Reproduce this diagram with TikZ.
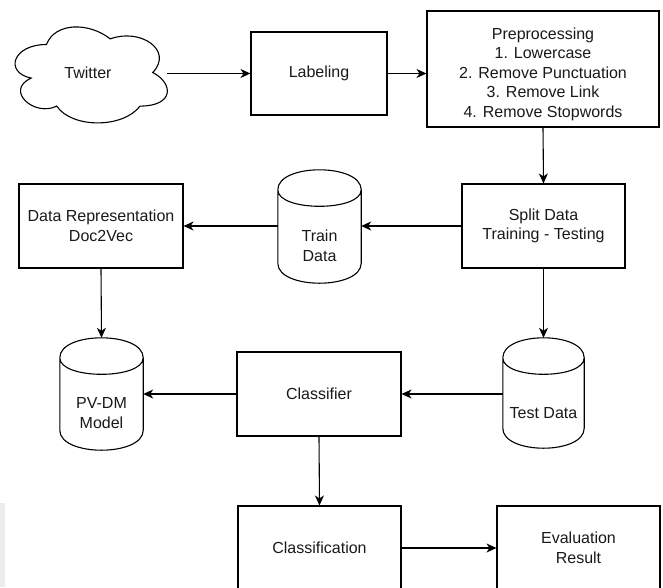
\documentclass[tikz,border=0pt]{standalone}
\usepackage{fontspec}
\setmainfont{Liberation Sans}
\usetikzlibrary{arrows.meta,calc}
\newcommand\drawcyl[1]{%
  \draw[shapeline] let \p1=(#1.north west), \p2=(#1.south east) in
    ({\x1},{\y1-20pt}) .. controls ({\x1},{\y1+6.67pt}) and ({\x2},{\y1+6.67pt}) .. ({\x2},{\y1-20pt})
    -- ({\x2},{\y2+20pt}) .. controls ({\x2},{\y2-6.67pt}) and ({\x1},{\y2-6.67pt}) .. ({\x1},{\y2+20pt}) -- cycle
    ({\x1},{\y1-20pt}) .. controls ({\x1},{\y1-42pt}) and ({\x2},{\y1-42pt}) .. ({\x2},{\y1-20pt});}
\begin{document}
\begin{tikzpicture}[x=1pt,y=-1pt,
  every node/.style={font=\fontsize{16}{19.5}\selectfont, align=center, inner sep=0pt, text=black!90},
  box/.style={draw, line width=1.1pt, rectangle},
  ghost/.style={rectangle},
  arr/.style={line width=1.1pt, -{Stealth[length=10pt,width=9pt,inset=3pt]}},
  shapeline/.style={line width=1.1pt}]
\useasboundingbox (0,0) rectangle (663,587);
\fill[gray!15] (0,503) rectangle (5,587);

% cloud
\draw[shapeline] (46.5,44.5)
  .. controls (12.5,44.5) and (4,72.5) .. (31.2,78.1)
  .. controls (4,90.4) and (34.6,117.3) .. (56.7,106.1)
  .. controls (72,128.5) and (123,128.5) .. (140,106.1)
  .. controls (174,106.1) and (174,83.7) .. (152.75,72.5)
  .. controls (174,50.1) and (140,27.7) .. (110.25,38.9)
  .. controls (89,22.1) and (55,22.1) .. (46.5,44.5) -- cycle;
\node[ghost, minimum width=152pt, minimum height=96pt] (twitter) at (91,73) {};
\node (twittertxt) at (88,73) {Twitter};

\node[box, minimum width=136pt, minimum height=83pt] (labeling) at (319,73.5) {Labeling};
\node[box, minimum width=232pt, minimum height=116pt] (preproc) at (543,69) {};
\node (preproctxt) at (543,74) {Preprocessing\\1. Lowercase\\2. Remove Punctuation\\3. Remove Link\\4. Remove Stopwords};

\node[box, minimum width=163pt, minimum height=84pt] (split) at (543.5,226) {Split Data\\Training - Testing};
\node[box, minimum width=164pt, minimum height=84pt] (datarep) at (101,226) {Data Representation\\Doc2Vec};

\node[ghost, minimum width=83pt, minimum height=113pt] (train) at (319.5,226.5) {};
\drawcyl{train}
\node (traintxt) at (319.5,246) {Train\\Data};

\node[ghost, minimum width=83pt, minimum height=112pt] (pvdm) at (101.5,394) {};
\drawcyl{pvdm}
\node (pvdmtxt) at (101.5,413) {PV-DM\\Model};

\node[box, minimum width=164pt, minimum height=84pt] (classifier) at (319,394) {Classifier};

\node[ghost, minimum width=81pt, minimum height=110pt] (test) at (543.5,393) {};
\drawcyl{test}
\node (testtxt) at (543.5,413) {Test Data};

\node[box, minimum width=163pt, minimum height=84pt] (classification) at (319.5,548) {Classification};
\node[box, minimum width=163pt, minimum height=84pt] (evaluation) at (578.5,548) {Evaluation\\Result};

% connectors
\draw[arr] (twitter.east |- labeling.west) -- (labeling.west);
\draw[arr] (labeling.east) -- (labeling.east -| preproc.west);
\draw[arr] (preproc.south) -- (split.north);
\draw[arr] (split.west) -- (split.west -| train.east);
\draw[arr] (train.west |- datarep.east) -- (datarep.east);
\draw[arr] (datarep.south) -- (pvdm.north);
\draw[arr] (split.south) -- (test.north);
\draw[arr] (test.west |- classifier.east) -- (classifier.east);
\draw[arr] (classifier.west) -- (classifier.west -| pvdm.east);
\draw[arr] (classifier.south) -- (classification.north);
\draw[arr] (classification.east) -- (evaluation.west);
\end{tikzpicture}
\end{document}
